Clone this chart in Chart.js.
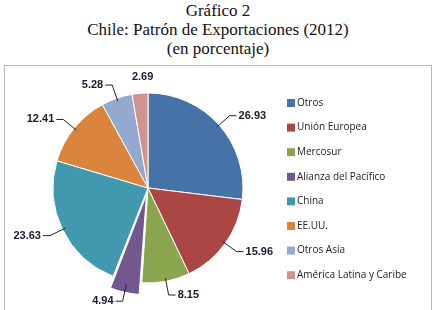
<!DOCTYPE html>
<html>
<head>
<meta charset="utf-8">
<script src="https://cdn.jsdelivr.net/npm/chart.js@4"></script>
<style>
  body { margin: 0; background: #fff; }
  #title {
    position: absolute; left: 0; top: 0; width: 436px;
    text-align: center; font-family: "Liberation Serif", serif;
    font-size: 17px; line-height: 19px; color: #111; padding-top: 1px;
  }
  #frame {
    position: absolute; left: 4px; top: 65px; width: 426px; height: 260px;
    border: 1px solid #b8b8b8;
  }
  #wrap { position: absolute; left: 0; top: 0; width: 436px; height: 310px; }
</style>
</head>
<body>
<div id="title">Gráfico 2<br>Chile: Patrón de Exportaciones (2012)<br>(en porcentaje)</div>
<div id="frame"></div>
<div id="wrap"><canvas id="pie"></canvas></div>
<script>
const categories = ['Otros', 'Unión Europea', 'Mercosur', 'Alianza del Pacífico', 'China', 'EE.UU.', 'Otros Asia', 'América Latina y Caribe'];
const shares = [26.93, 15.96, 8.15, 4.94, 23.63, 12.41, 5.28, 2.69];
const colors = ['#4572A7', '#AA4643', '#89A54E', '#71588F', '#4198AF', '#DB843D', '#93A9CF', '#D19392'];

// leader lines + value labels
const pieLabels = {
  id: 'pieLabels',
  afterDatasetsDraw(chart) {
    const ctx = chart.ctx;
    const meta = chart.getDatasetMeta(0);
    ctx.save();
    ctx.font = 'bold 11px "Liberation Sans", Arial, sans-serif';
    ctx.fillStyle = '#1a1a2e';
    ctx.strokeStyle = '#222';
    ctx.lineWidth = 1;
    ctx.textBaseline = 'middle';
    meta.data.forEach((arc, i) => {
      const p = arc.getProps(['x', 'y', 'startAngle', 'endAngle', 'outerRadius'], true);
      const mid = (p.startAngle + p.endAngle) / 2;
      const dx = Math.cos(mid), dy = Math.sin(mid);
      const shift = (arc.options.offset || 0) / 4;
      const cx = p.x + dx * shift, cy = p.y + dy * shift;
      const r = p.outerRadius;
      const txt = shares[i].toFixed(2);
      if (Math.abs(dx) < 0.15 && dy < 0) {
        ctx.textAlign = 'center';
        ctx.fillText(txt, cx + dx * (r + 16) + 4, cy + dy * (r + 16));
        return;
      }
      const x1 = cx + dx * (r - 3), y1 = cy + dy * (r - 3);
      const x2 = cx + dx * (r + 14), y2 = cy + dy * (r + 14);
      const side = dx >= 0 ? 1 : -1;
      const x3 = x2 + side * 7;
      ctx.beginPath();
      ctx.moveTo(x1, y1);
      ctx.lineTo(x2, y2);
      ctx.lineTo(x3, y2);
      ctx.stroke();
      ctx.textAlign = side > 0 ? 'left' : 'right';
      ctx.fillText(txt, x3 + side * 2, y2);
    });
    ctx.restore();
  }
};

// legend on the right
const sideLegend = {
  id: 'sideLegend',
  afterDraw(chart) {
    const ctx = chart.ctx;
    ctx.save();
    ctx.font = '10px "Open Sans", "Liberation Sans", sans-serif';
    ctx.textBaseline = 'middle';
    ctx.textAlign = 'left';
    chart.data.labels.forEach((lab, i) => {
      const y = 103 + i * 24.6;
      ctx.fillStyle = colors[i];
      ctx.fillRect(287, y - 4, 8, 8);
      ctx.fillStyle = '#222';
      ctx.fillText(lab, 297, y);
    });
    ctx.restore();
  }
};

new Chart(document.getElementById('pie'), {
  type: 'pie',
  data: {
    labels: categories,
    datasets: [{
      data: shares,
      backgroundColor: colors,
      borderColor: '#ffffff',
      borderWidth: 1,
      offset: (c) => c.dataIndex === 3 ? 28 : 0
    }]
  },
  options: {
    responsive: true,
    maintainAspectRatio: false,
    animation: false,
    radius: 95,
    layout: { padding: { left: 53, right: 193, top: 93, bottom: 27 } },
    plugins: {
      legend: { display: false },
      tooltip: { enabled: false }
    }
  },
  plugins: [pieLabels, sideLegend]
});
</script>
</body>
</html>
